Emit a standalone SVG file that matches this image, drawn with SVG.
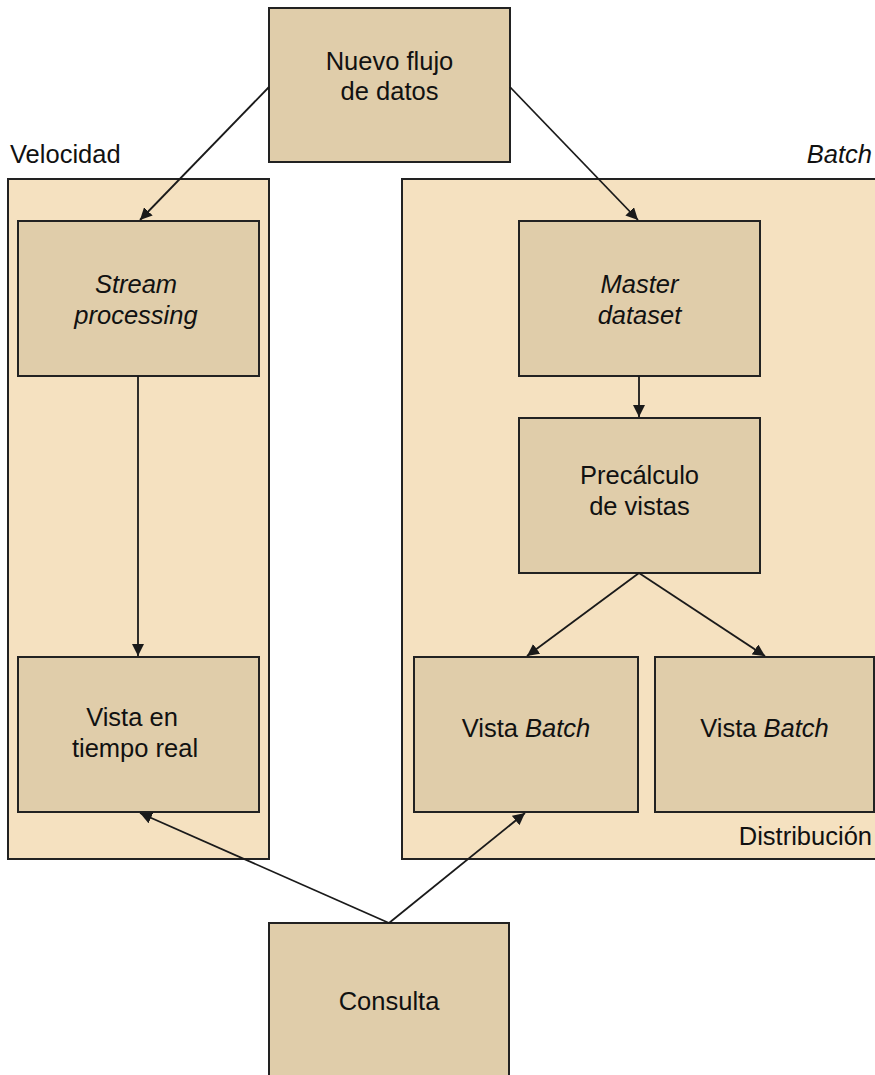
<svg xmlns="http://www.w3.org/2000/svg" width="875" height="1075" viewBox="0 0 875 1075">
<defs>
<marker id="ah" viewBox="0 0 10 10" refX="10" refY="5" markerWidth="12" markerHeight="12" markerUnits="userSpaceOnUse" orient="auto"><path d="M0,0 L10,5 L0,10 z" fill="#1a1a1a"/></marker>
<style>
.cont{fill:#F5E1C0;stroke:#222;stroke-width:2}
.node{fill:#E0CDAA;stroke:#222;stroke-width:2}
text{font-family:"Liberation Sans",Arial,sans-serif;font-size:25.5px;fill:#111}
.c{text-anchor:middle}
.i{font-style:italic}
.edge{stroke:#1a1a1a;stroke-width:1.8;fill:none;marker-end:url(#ah)}
</style>
</defs>
<rect width="875" height="1075" fill="#fff"/>
<g id="container-velocidad">
<rect class="cont" x="8" y="179" width="261" height="680"/>
<text x="10" y="163">Velocidad</text>
</g>
<g id="container-batch">
<rect class="cont" x="402" y="179" width="480" height="680"/>
<text x="872" y="163" class="i" text-anchor="end">Batch</text>
<text x="872" y="845" text-anchor="end">Distribución</text>
</g>
<g id="nuevo">
<rect class="node" x="269" y="8" width="241" height="154"/>
<text x="389.5" y="70" class="c">Nuevo flujo</text>
<text x="389.5" y="100" class="c">de datos</text>
</g>
<g id="stream">
<rect class="node" x="18" y="221" width="241" height="155"/>
<text x="136" y="293" class="c i">Stream</text>
<text x="136" y="324" class="c i">processing</text>
</g>
<g id="vista-real">
<rect class="node" x="18" y="657" width="241" height="155"/>
<text x="132" y="726" class="c">Vista en</text>
<text x="135" y="757" class="c">tiempo real</text>
</g>
<g id="master">
<rect class="node" x="519" y="221" width="241" height="155"/>
<text x="639.5" y="293" class="c i">Master</text>
<text x="639.5" y="324" class="c i">dataset</text>
</g>
<g id="precalculo">
<rect class="node" x="519" y="418" width="241" height="155"/>
<text x="639.5" y="484" class="c">Precálculo</text>
<text x="639.5" y="515" class="c">de vistas</text>
</g>
<g id="vista-batch-1">
<rect class="node" x="414" y="657" width="224" height="155"/>
<text x="526" y="737" class="c">Vista <tspan class="i">Batch</tspan></text>
</g>
<g id="vista-batch-2">
<rect class="node" x="655" y="657" width="219" height="155"/>
<text x="764.5" y="737" class="c">Vista <tspan class="i">Batch</tspan></text>
</g>
<g id="consulta">
<rect class="node" x="269" y="923" width="240" height="160"/>
<text x="389" y="1010" class="c">Consulta</text>
</g>
<g id="connectors">
<line class="edge" x1="269" y1="87" x2="140" y2="220"/>
<line class="edge" x1="510" y1="87" x2="638" y2="220"/>
<line class="edge" x1="138" y1="376" x2="138" y2="656"/>
<line class="edge" x1="639" y1="376" x2="639" y2="417"/>
<line class="edge" x1="639" y1="573" x2="527" y2="656"/>
<line class="edge" x1="639" y1="573" x2="765" y2="656"/>
<line class="edge" x1="389" y1="923" x2="140" y2="813"/>
<line class="edge" x1="389" y1="923" x2="525" y2="813"/>
</g>
</svg>
